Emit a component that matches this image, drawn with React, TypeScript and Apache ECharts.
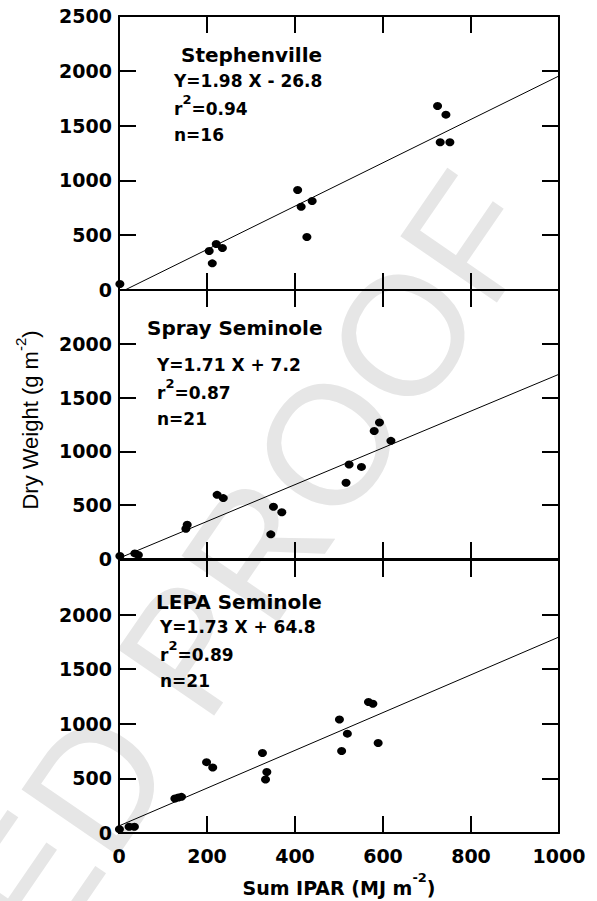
import React, { useEffect, useRef } from "react";
import * as echarts from "echarts";

// ---------- data ----------
const xTickValues = [0, 200, 400, 600, 800, 1000];
const yTickValues = [0, 500, 1000, 1500, 2000, 2500];

const panelNames = ["Stephenville", "Spray Seminole", "LEPA Seminole"];
const equations = ["Y=1.98 X - 26.8", "Y=1.71 X + 7.2", "Y=1.73 X + 64.8"];
const r2Values = ["0.94", "0.87", "0.89"];
const nValues = ["16", "21", "21"];

const stephenvillePoints = [
  [2, 55], [205, 356], [212, 243], [221, 420], [235, 383],
  [406, 912], [414, 760], [427, 484], [439, 812],
  [724, 1679], [743, 1600], [730, 1348], [752, 1348],
];
const sprayPoints = [
  [2, 28], [36, 52], [44, 37], [152, 281], [155, 318],
  [223, 596], [237, 566], [345, 229], [351, 486], [370, 434],
  [516, 709], [523, 878], [551, 856], [580, 1190], [592, 1269], [618, 1098],
];
const lepaPoints = [
  [1, 34], [23, 58], [35, 58], [127, 316], [135, 325], [142, 331],
  [199, 649], [213, 599], [326, 733], [336, 559], [333, 490],
  [501, 1040], [506, 751], [519, 910], [567, 1199], [577, 1183], [589, 824],
];

const stephenvilleFit = [[13.5, 0], [1000, 1953]];
const sprayFit = [[0, 7.2], [1000, 1717]];
const lepaFit = [[0, 64.8], [1000, 1795]];

const allPoints = [stephenvillePoints, sprayPoints, lepaPoints];
const allFits = [stephenvilleFit, sprayFit, lepaFit];

// ---------- layout ----------
const LEFT = 119;
const WIDTH = 440;
const gridTops = [16, 290, 560];
const gridHeights = [274, 269, 273];
const nameBoxes = [
  { x: 181, y: 55 },
  { x: 147, y: 328 },
  { x: 156, y: 602 },
];
const eqBoxes = [
  { x: 174, y: 81 },
  { x: 157, y: 365 },
  { x: 160, y: 627 },
];
const LINE_GAP = 27;

const FONT = "'DejaVu Sans', sans-serif";

export default function App() {
  const ref = useRef<HTMLDivElement>(null);

  useEffect(() => {
    if (!ref.current) return;
    const chart = echarts.init(ref.current, undefined, { renderer: "svg" });

    const grids: any[] = [];
    const xAxes: any[] = [];
    const yAxes: any[] = [];
    const series: any[] = [];
    const graphics: any[] = [];

    const axisLine = { show: true, onZero: false, lineStyle: { color: "#000", width: 2 } };
    const axisTick = { show: true, inside: true, length: 17, lineStyle: { color: "#000", width: 2 } };

    for (let i = 0; i < 3; i++) {
      grids.push({ left: LEFT, top: gridTops[i], width: WIDTH, height: gridHeights[i], containLabel: false });
      const xBase = {
        gridIndex: i,
        type: "value",
        min: xTickValues[0],
        max: xTickValues[xTickValues.length - 1],
        interval: xTickValues[1] - xTickValues[0],
        splitLine: { show: false },
        axisLine,
        axisTick,
      };
      xAxes.push({
        ...xBase,
        position: "bottom",
        axisLabel: {
          show: i === 2,
          margin: 13,
          color: "#000",
          fontFamily: FONT,
          fontWeight: "bold",
          fontSize: 19,
          formatter: (v: number) => String(v),
        },
      });
      xAxes.push({ ...xBase, position: "top", axisLabel: { show: false } });

      const yBase = {
        gridIndex: i,
        type: "value",
        min: yTickValues[0],
        max: yTickValues[yTickValues.length - 1],
        interval: yTickValues[1] - yTickValues[0],
        splitLine: { show: false },
        axisLine,
        axisTick,
      };
      yAxes.push({
        ...yBase,
        position: "left",
        axisLabel: {
          show: true,
          margin: 7,
          color: "#000",
          fontFamily: FONT,
          fontWeight: "bold",
          fontSize: 19,
          formatter: (v: number) => (i > 0 && v === yTickValues[yTickValues.length - 1] ? "" : String(v)),
        },
      });
      yAxes.push({ ...yBase, position: "right", axisLabel: { show: false } });

      series.push({
        type: "scatter",
        xAxisIndex: 2 * i,
        yAxisIndex: 2 * i,
        symbol: "circle",
        symbolSize: [9, 8],
        itemStyle: { color: "#000", opacity: 1 },
        data: allPoints[i],
        z: 5,
      });
      series.push({
        type: "line",
        xAxisIndex: 2 * i,
        yAxisIndex: 2 * i,
        symbol: "none",
        lineStyle: { color: "#000", width: 1 },
        data: allFits[i],
        z: 4,
      });

      graphics.push({
        type: "text",
        x: nameBoxes[i].x,
        y: nameBoxes[i].y,
        style: {
          text: panelNames[i],
          fontFamily: FONT,
          fontWeight: "bold",
          fontSize: 20,
          fill: "#000",
          verticalAlign: "middle",
          align: "left",
        },
        z: 10,
      });
      graphics.push({
        type: "text",
        x: eqBoxes[i].x,
        y: eqBoxes[i].y,
        style: {
          text: equations[i],
          fontFamily: FONT,
          fontWeight: "bold",
          fontSize: 17,
          fill: "#000",
          verticalAlign: "middle",
          align: "left",
        },
        z: 10,
      });
      graphics.push({
        type: "text",
        x: eqBoxes[i].x,
        y: eqBoxes[i].y + LINE_GAP - 3,
        style: {
          text: "{a|r}{s|2}{a|=" + r2Values[i] + "}",
          verticalAlign: "middle",
          align: "left",
          rich: {
            a: { fontFamily: FONT, fontWeight: "bold", fontSize: 17, fill: "#000", lineHeight: 24, verticalAlign: "bottom" },
            s: { fontFamily: FONT, fontWeight: "bold", fontSize: 13, fill: "#000", lineHeight: 14, verticalAlign: "top" },
          },
        },
        z: 10,
      });
      graphics.push({
        type: "text",
        x: eqBoxes[i].x,
        y: eqBoxes[i].y + 2 * LINE_GAP,
        style: {
          text: "n=" + nValues[i],
          fontFamily: FONT,
          fontWeight: "bold",
          fontSize: 17,
          fill: "#000",
          verticalAlign: "middle",
          align: "left",
        },
        z: 10,
      });
    }

    // axis titles
    graphics.push({
      type: "text",
      x: LEFT + WIDTH / 2,
      y: 884,
      style: {
        text: "{a|Sum IPAR (MJ m}{s|-2}{a|)}",
        align: "center",
        verticalAlign: "middle",
        rich: {
          a: { fontFamily: FONT, fontWeight: "bold", fontSize: 19, fill: "#000", lineHeight: 26, verticalAlign: "bottom" },
          s: { fontFamily: FONT, fontWeight: "bold", fontSize: 13, fill: "#000", lineHeight: 14, verticalAlign: "top" },
        },
      },
      z: 10,
    });
    graphics.push({
      type: "text",
      x: 27,
      y: 420,
      rotation: Math.PI / 2,
      style: {
        text: "{a|Dry Weight (g m}{s|-2}{a|)}",
        align: "center",
        verticalAlign: "middle",
        rich: {
          a: { fontFamily: "'Liberation Sans', Arial, sans-serif", fontSize: 22, fill: "#000", lineHeight: 28, verticalAlign: "bottom" },
          s: { fontFamily: "'Liberation Sans', Arial, sans-serif", fontSize: 15, fill: "#000", lineHeight: 16, verticalAlign: "top" },
        },
      },
      z: 10,
    });
    // watermark
    graphics.push({
      type: "text",
      x: 499,
      y: 195,
      rotation: 0.97,
      silent: true,
      style: {
        text: "UNCORRECTED PROOF",
        fontFamily: "'Liberation Sans', Arial, sans-serif",
        fontSize: 170,
        fill: "#e6e6e6",
        align: "right",
        verticalAlign: "middle",
      },
      z: -10,
    });

    chart.setOption({
      animation: false,
      backgroundColor: "#fff",
      grid: grids,
      xAxis: xAxes,
      yAxis: yAxes,
      series,
      graphic: graphics,
    });

    return () => chart.dispose();
  }, []);

  return (
    <div
      ref={ref}
      style={{ position: "fixed", left: 0, top: 0, width: 597, height: 901 }}
    />
  );
}
